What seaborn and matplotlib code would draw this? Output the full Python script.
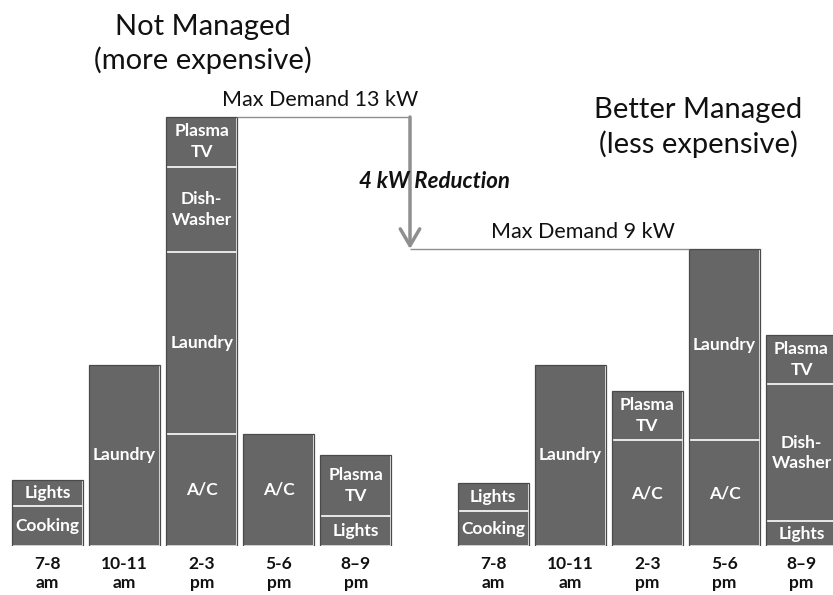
import numpy as np
import pandas as pd
import matplotlib
matplotlib.use("Agg")
import matplotlib.pyplot as plt
import seaborn as sns

# ---------------- data ----------------
slots = ["7-8\nam", "10-11\nam", "2-3\npm", "5-6\npm", "8\u20139\npm"]

nm_loads = [["Cooking", "Lights"],
            ["Laundry"],
            ["A/C", "Laundry", "Dish-\nWasher", "Plasma\nTV"],
            ["A/C"],
            ["Lights", "Plasma\nTV"]]
nm_kw = [[1.2, 0.8],
         [5.5],
         [3.4, 5.5, 2.6, 1.5],
         [3.4],
         [0.9, 1.85]]

bm_loads = [["Cooking", "Lights"],
            ["Laundry"],
            ["A/C", "Plasma\nTV"],
            ["A/C", "Laundry"],
            ["Lights", "Dish-\nWasher", "Plasma\nTV"]]
bm_kw = [[1.05, 0.85],
         [5.5],
         [3.2, 1.5],
         [3.2, 5.8],
         [0.75, 4.15, 1.5]]

group_names = ["Not Managed", "Better Managed"]
group_sub = ["(more expensive)", "(less expensive)"]
group_start = [0.0, 5.78]

# ---------------- styling ----------------
sns.set_style("white")
plt.rcParams["font.family"] = ["Lato", "DejaVu Sans"]

BAR = "#666666"
EDGE = "#4a4a4a"
LINE = "#8f8f8f"
W = 0.92

fig = plt.figure(figsize=(8.33, 5.95), dpi=100)
ax = fig.add_axes([0, 49 / 595, 1, 546 / 595])

groups = [(nm_loads, nm_kw), (bm_loads, bm_kw)]
max_layers = max(len(k) for _, kws in groups for k in kws)

rows = []
for g, (loads, kws) in enumerate(groups):
    for i, K in enumerate(kws):
        cum = np.cumsum(K)
        for layer in range(max_layers):
            rows.append(dict(group=group_names[g], pos=group_start[g] + i,
                             layer=layer, top=cum[min(layer, len(K) - 1)]))
df = pd.DataFrame(rows)

# stacked bars: draw cumulative layers from the top down
for layer in reversed(range(max_layers)):
    sns.barplot(data=df[df.layer == layer], x="pos", y="top", native_scale=True,
                width=W, color=BAR, saturation=1, edgecolor="white",
                linewidth=1.2, errorbar=None, ax=ax)
# outline of each whole bar
sns.barplot(data=df[df.layer == max_layers - 1], x="pos", y="top", native_scale=True,
            width=W, color=EDGE, fill=False, linewidth=0.9, errorbar=None, ax=ax)

# segment labels
for g, (loads, kws) in enumerate(groups):
    for i, (L, K) in enumerate(zip(loads, kws)):
        cum = np.concatenate([[0], np.cumsum(K)])
        for j, lab in enumerate(L):
            mid = (cum[j] + cum[j + 1]) / 2
            ax.text(group_start[g] + i, mid, lab, ha="center", va="center",
                    color="white", fontsize=12.5, fontweight="bold",
                    linespacing=1.35)

# axes
px_per_slot = 77.1
x_left = -47.5 / px_per_slot
x_right = (833 - 47.5) / px_per_slot
ax.set_xlim(x_left, x_right)
ax.set_ylim(0, 546 / 33.0)
ticks = [group_start[g] + i for g in range(2) for i in range(len(slots))]
ax.set_xticks(ticks)
ax.set_xticklabels(slots * 2, fontsize=12.5, fontweight="bold", linespacing=1.25,
                   color="#111111")
ax.tick_params(axis="x", length=0, pad=7)
ax.set_yticks([])
ax.set_xlabel("")
ax.set_ylabel("")
for s in ax.spines.values():
    s.set_visible(False)

# max demand lines and arrow
nm_max = max(sum(k) for k in nm_kw)
bm_max = max(sum(k) for k in bm_kw)
nm_peak = int(np.argmax([sum(k) for k in nm_kw]))
bm_peak = int(np.argmax([sum(k) for k in bm_kw]))
arrow_x = (410 - 47.5) / px_per_slot
ax.plot([group_start[0] + nm_peak + W / 2, arrow_x], [nm_max, nm_max],
        color=LINE, lw=1.0, solid_capstyle="butt")
ax.plot([arrow_x, group_start[1] + bm_peak - W / 2], [bm_max, bm_max],
        color=LINE, lw=1.0, solid_capstyle="butt")
ax.annotate("", xy=(arrow_x, bm_max), xytext=(arrow_x, nm_max),
            arrowprops=dict(arrowstyle="->,head_length=0.6,head_width=0.35",
                            color=LINE, lw=2.5, mutation_scale=20,
                            shrinkA=0, shrinkB=0))

ax.text((320 - 47.5) / px_per_slot, nm_max + 0.33, f"Max Demand {nm_max:.0f} kW",
        ha="center", va="baseline", fontsize=15.5, color="#111111")
ax.text((582.5 - 47.5) / px_per_slot, bm_max + 0.33, f"Max Demand {bm_max:.0f} kW",
        ha="center", va="baseline", fontsize=15.5, color="#111111")
ax.text((434 - 47.5) / px_per_slot, (nm_max + bm_max) / 2 + 0.05,
        f"{nm_max - bm_max:.0f} kW Reduction", ha="center", va="center",
        fontsize=16, fontweight="bold", fontstyle="italic", color="#111111")

# group titles
fig.text(203 / 833, 1 - 35 / 595, group_names[0], ha="center", va="baseline",
         fontsize=21, color="#111111")
fig.text(203 / 833, 1 - 69 / 595, group_sub[0], ha="center", va="baseline",
         fontsize=21, color="#111111")
fig.text(698 / 833, 1 - 118 / 595, group_names[1], ha="center", va="baseline",
         fontsize=21, color="#111111")
fig.text(698 / 833, 1 - 153 / 595, group_sub[1], ha="center", va="baseline",
         fontsize=21, color="#111111")

fig.savefig("out.png", dpi=100)
